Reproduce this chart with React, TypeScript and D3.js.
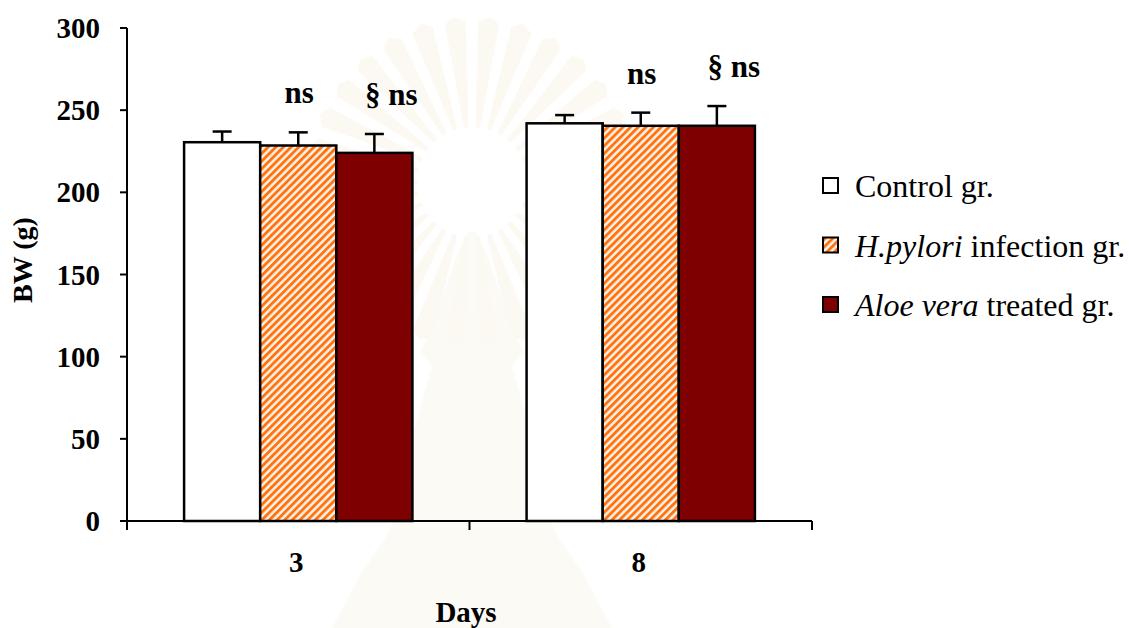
import React from "react";
import * as d3 from "d3";

// Body weight (g) by day, mean and SD for each group
const days = ["3", "8"];
const groups = ["Control gr.", "H.pylori infection gr.", "Aloe vera treated gr."];
const controlMean = [230.5, 242];
const controlSD = [6.5, 5];
const pyloriMean = [228.5, 240.5];
const pyloriSD = [8, 8];
const aloeMean = [224, 240.5];
const aloeSD = [11.5, 12];
const yTicks = [0, 50, 100, 150, 200, 250, 300];
// significance marks over the H.pylori and Aloe vera bars
const pyloriMarks = ["ns", "ns"];
const aloeMarks = ["§ ns", "§ ns"];

const W = 1129;
const H = 628;
const SERIF = "'Liberation Serif', Tinos, 'Times New Roman', 'DejaVu Serif', serif";
const ORANGE = "#ff7410";
const MAROON = "#7f0000";

export default function App() {
  const x0 = d3
    .scaleBand<string>()
    .domain(days)
    .range([127, 812])
    .paddingInner(1 / 3)
    .paddingOuter(1 / 6);
  const x1 = d3.scaleBand<string>().domain(groups).range([0, x0.bandwidth()]).padding(0);
  const y = d3.scaleLinear().domain([0, 300]).range([521, 28]);

  const series = [
    { key: groups[0], mean: controlMean, sd: controlSD, fill: "#ffffff", marks: null as string[] | null, dx: 0 },
    { key: groups[1], mean: pyloriMean, sd: pyloriSD, fill: "url(#hatch)", marks: pyloriMarks, dx: 1 },
    { key: groups[2], mean: aloeMean, sd: aloeSD, fill: MAROON, marks: aloeMarks, dx: 17 },
  ];

  // faint emblem behind the plot
  const cx = 472;
  const cy = 182;
  const rays = d3.range(30).map((i) => {
    const a = (i / 30) * Math.PI * 2;
    const da = (Math.PI * 2) / 30 / 3.2;
    const r0 = 55;
    const r1 = 160;
    const p = (r: number, t: number) => `${cx + r * Math.cos(t)},${cy + r * Math.sin(t)}`;
    return `M${p(r0, a - da * 0.6)}L${p(r1, a - da)}L${p(r1 + 6, a)}L${p(r1, a + da)}L${p(r0, a + da * 0.6)}Z`;
  });
  const tiers: [number, number][] = [
    [232, 4], [262, 18], [300, 30], [330, 40], [352, 52], [366, 40], [420, 55],
    [468, 70], [482, 58], [540, 88], [575, 112], [628, 140],
  ];
  const pagoda =
    tiers.map(([yy, hw], i) => `${i ? "L" : "M"}${cx + hw},${yy}`).join("") +
    tiers
      .slice()
      .reverse()
      .map(([yy, hw]) => `L${cx - hw},${yy}`)
      .join("") +
    "Z";

  const font = { fontFamily: SERIF };

  return (
    <svg
      width={W}
      height={H}
      style={{ position: "absolute", left: 0, top: 0, background: "#fff", fontFamily: SERIF }}
    >
      <defs>
        <pattern
          id="hatch"
          width={5.4}
          height={5.4}
          patternUnits="userSpaceOnUse"
          patternTransform="rotate(45)"
        >
          <rect width={5.4} height={5.4} fill="#fbf3ea" />
          <rect width={2.9} height={5.4} fill={ORANGE} />
        </pattern>
      </defs>

      <rect width={W} height={H} fill="#ffffff" />
      <g opacity={0.16}>
        {rays.map((d, i) => (
          <path key={i} d={d} fill="#eadcae" />
        ))}
        <circle cx={cx} cy={cy} r={52} fill="#ffffff" />
        <path d={pagoda} fill="#eadcae" opacity={0.7} />
      </g>

      {/* bars */}
      {days.map((day, di) => (
        <g key={day} transform={`translate(${x0(day)},0)`}>
          {series.map((s) => {
            const bx = x1(s.key)!;
            const bw = x1.bandwidth();
            const top = y(s.mean[di]);
            const errTop = y(s.mean[di] + s.sd[di]);
            const mid = bx + bw / 2;
            return (
              <g key={s.key}>
                <rect
                  x={bx}
                  y={top}
                  width={bw}
                  height={y(0) - top}
                  fill={s.fill}
                  stroke="#000"
                  strokeWidth={2.5}
                />
                <line x1={mid} x2={mid} y1={top} y2={errTop} stroke="#000" strokeWidth={2.5} />
                <line x1={mid - 9.5} x2={mid + 9.5} y1={errTop} y2={errTop} stroke="#000" strokeWidth={2.5} />
                {s.marks && (
                  <text
                    x={mid + s.dx}
                    y={errTop - 29}
                    textAnchor="middle"
                    fontSize={31}
                    fontWeight="bold"
                    style={font}
                  >
                    {s.marks[di]}
                  </text>
                )}
              </g>
            );
          })}
        </g>
      ))}

      {/* y axis */}
      <line x1={127} x2={127} y1={y(300)} y2={y(0)} stroke="#000" strokeWidth={2} />
      {yTicks.map((t) => (
        <g key={t}>
          <line x1={120} x2={127} y1={y(t)} y2={y(t)} stroke="#000" strokeWidth={2} />
          <text x={100} y={y(t) + 10} textAnchor="end" fontSize={29} fontWeight="bold" style={font}>
            {t}
          </text>
        </g>
      ))}
      <text
        transform={`translate(32,260) rotate(-90)`}
        textAnchor="middle"
        fontSize={28}
        fontWeight="bold"
        style={font}
      >
        BW (g)
      </text>

      {/* x axis */}
      <line x1={127} x2={812} y1={y(0)} y2={y(0)} stroke="#000" strokeWidth={2} />
      {[127, ...days.map((d) => x0(d)! + x0.bandwidth() + (x0.step() - x0.bandwidth()) / 2)].map((tx, i) => (
        <line key={i} x1={tx} x2={tx} y1={y(0)} y2={y(0) + 9} stroke="#000" strokeWidth={2} />
      ))}
      {days.map((d) => (
        <text
          key={d}
          x={x0(d)! + x0.bandwidth() / 2 - 2}
          y={572}
          textAnchor="middle"
          fontSize={29}
          fontWeight="bold"
          style={font}
        >
          {d}
        </text>
      ))}
      <text x={466} y={622} textAnchor="middle" fontSize={29} fontWeight="bold" style={font}>
        Days
      </text>

      {/* legend */}
      {series.map((s, i) => {
        const ly = 178 + i * 59.5;
        return (
          <g key={s.key}>
            <rect x={823} y={ly} width={15} height={15} fill={s.fill} stroke="#000" strokeWidth={2} />
            <text x={855} y={ly + 19} fontSize={32} style={font}>
              {i === 0 && "Control gr."}
              {i === 1 && (
                <>
                  <tspan fontStyle="italic">H.pylori</tspan> infection gr.
                </>
              )}
              {i === 2 && (
                <>
                  <tspan fontStyle="italic">Aloe vera</tspan> treated gr.
                </>
              )}
            </text>
          </g>
        );
      })}
    </svg>
  );
}
